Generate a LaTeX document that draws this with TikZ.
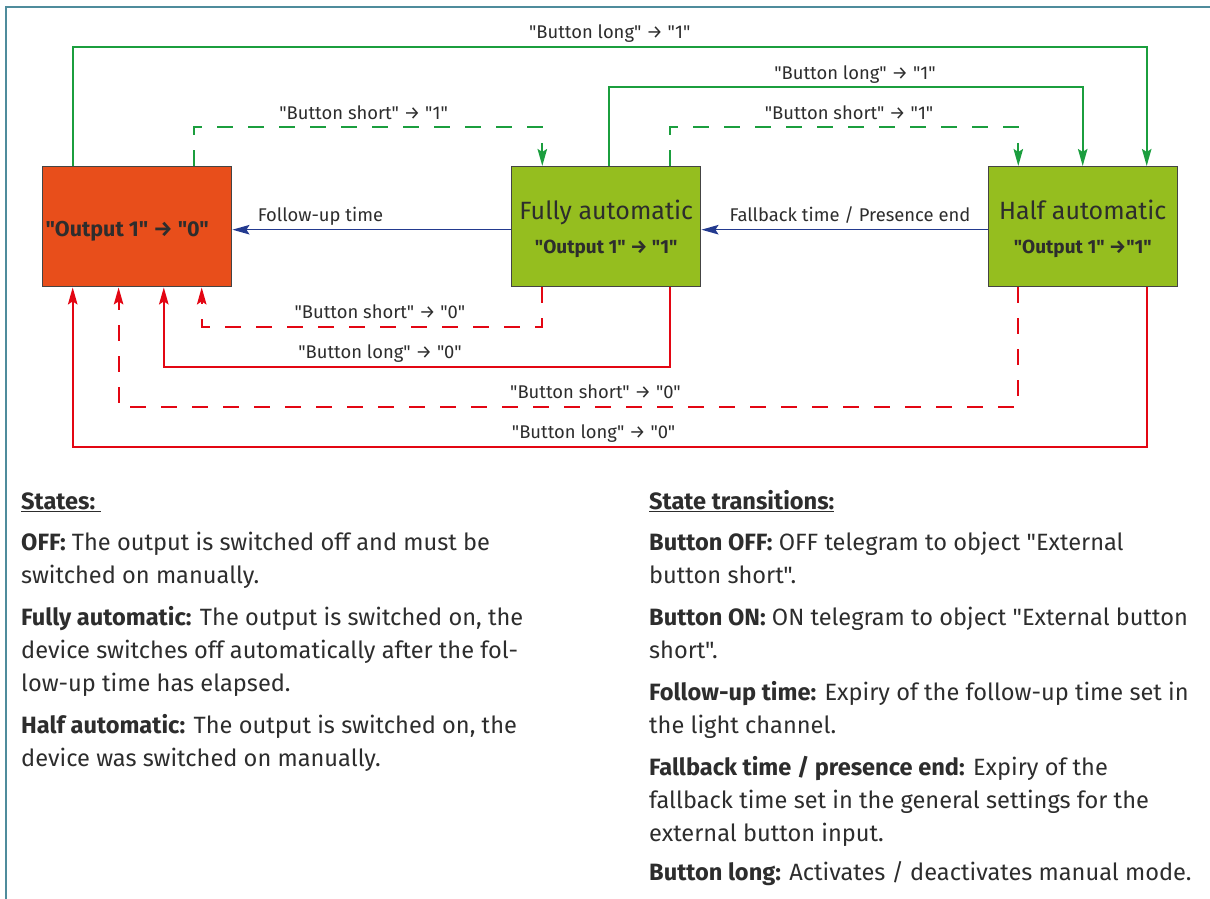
\documentclass[tikz,border=0pt]{standalone}
\usepackage{fontspec}
\setmainfont{Fira Sans}[Ligatures=TeXOff]
\usetikzlibrary{arrows.meta}
\usetikzlibrary{positioning}

\definecolor{offred}{HTML}{E84E1B}
\definecolor{autogreen}{HTML}{95BE1F}
\definecolor{lgreen}{HTML}{1B9E3E}
\definecolor{lred}{HTML}{E30613}
\definecolor{lblue}{HTML}{233A8F}
\definecolor{framec}{HTML}{4F8C9C}
\definecolor{boxgray}{HTML}{444444}
\definecolor{txt}{HTML}{2D2D2D}

\tikzset{
  state/.style={draw=boxgray, line width=1.5pt, minimum width=189pt,
    minimum height=120pt, inner sep=0pt, align=center, text=txt,
    font=\fontsize{25}{33.3}\selectfont},
  conn/.style={line width=1.8pt, -{Stealth[length=17pt, width=9.5pt, inset=3pt]}},
  golong/.style={conn, lgreen},
  goshort/.style={conn, lgreen, dash pattern=on 16pt off 15pt},
  offlong/.style={conn, lred},
  offshort/.style={conn, lred, dash pattern=on 16pt off 15pt},
  timer/.style={conn, lblue, line width=1.4pt},
  lbl/.style={text=txt, anchor=base, yshift=8pt, inner sep=0pt,
    font=\fontsize{18.4}{20}\selectfont},
  para/.style={text=txt, anchor=north west, align=left, inner sep=0pt,
    font=\fontsize{23.6}{33.3}\selectfont}
}

\begin{document}
\begin{tikzpicture}[x=1pt, y=-1pt]
    \useasboundingbox (0,0) rectangle (1210,899);
    \draw[framec, line width=2pt] (5.8,899) -- (5.8,6.7) -- (1210,6.7);

    % states
    \node (off) [state, fill=offred] at (137.2,226.7)
      {\bfseries\fontsize{21.5}{24}\selectfont\rule[-4.3pt]{0pt}{28.6pt}"Output 1" → "0"\kern20pt};
    \node (fully) [state, fill=autogreen] at (606.2,226.7)
      {\rule{0pt}{24pt}Fully automatic\\
       \bfseries\fontsize{19}{33.3}\selectfont\rule[-4pt]{0pt}{4pt}"Output 1" → "1"};
    \node (half) [state, fill=autogreen] at (1082.8,226.7)
      {\rule{0pt}{24pt}Half automatic\\
       \bfseries\fontsize{19}{33.3}\selectfont\rule[-4pt]{0pt}{4pt}"Output 1" →"1"};

    % columns and rows of the loops
    \coordinate (a) at (72.7,0);
    \coordinate (b) at (118.6,0);
    \coordinate (c) at (163.8,0);
    \coordinate (d) at (194,0);
    \coordinate (e) at (201.7,0);
    \coordinate (f) at (542.3,0);
    \coordinate (g) at (609.3,0);
    \coordinate (h) at (670,0);
    \coordinate (i) at (1018.3,0);
    \coordinate (j) at (1082.7,0);
    \coordinate (k) at (1146.7,0);
    \coordinate (r1) at (0,47);
    \coordinate (r2) at (0,87);
    \coordinate (r3) at (0,127);
    \coordinate (r4) at (0,326.7);
    \coordinate (r5) at (0,366.7);
    \coordinate (r6) at (0,406.7);
    \coordinate (r7) at (0,446.7);

    % switching on
    \draw[golong] (off.north -| a) -- (a |- r1)
      -- node[lbl]{"Button long" → "1"} (k |- r1) -- (half.north -| k);
    \draw[golong] (fully.north -| g) -- (g |- r2)
      -- node[lbl, pos=0.519]{"Button long" → "1"} (j |- r2) -- (half.north -| j);
    \draw[goshort] (off.north -| d) -- (d |- r3)
      -- node[lbl, pos=0.487]{"Button short" → "1"} (f |- r3) -- (fully.north -| f);
    \draw[goshort] (fully.north -| h) -- (h |- r3)
      -- node[lbl, pos=0.514]{"Button short" → "1"} (i |- r3) -- (half.north -| i);

    % timers
    \draw[timer] ([yshift=-3pt]fully.west)
      -- node[lbl, pos=0.684]{Follow-up time} ([yshift=-3pt]off.east);
    \draw[timer] ([yshift=-3pt]half.west)
      -- node[lbl, pos=0.481]{Fallback time / Presence end} ([yshift=-3pt]fully.east);

    % switching off
    \draw[offshort] (fully.south -| f) -- (f |- r4)
      -- node[lbl, pos=0.477]{"Button short" → "0"} (e |- r4) -- (off.south -| e);
    \draw[offlong] (fully.south -| h) -- (h |- r5)
      -- node[lbl, pos=0.573]{"Button long" → "0"} (c |- r5) -- (off.south -| c);
    \draw[offshort] (half.south -| i) -- (i |- r6)
      -- node[lbl, pos=0.47]{"Button short" → "0"} (b |- r6) -- (off.south -| b);
    \draw[offlong] (half.south -| k) -- (k |- r7)
      -- node[lbl, pos=0.515]{"Button long" → "0"} (a |- r7) -- (off.south -| a);

    % legend
    \node (states) [para] at (21,487)
      {\rule{0pt}{22pt}\underline{\textbf{States:}\ }\\[7.7pt]
       \textbf{OFF:} The output is switched off and must be\\
       switched on manually.\\[8.4pt]
       \textbf{Fully automatic:} The output is switched on, the\\
       device switches off automatically after the fol-\\
       low-up time has elapsed.\\[8.4pt]
       \textbf{Half automatic:} The output is switched on, the\\
       device was switched on manually.};
    \node (trans) [para] at (649,487)
      {\rule{0pt}{22pt}\underline{\textbf{State transitions:}}\\[7.7pt]
       \textbf{Button OFF:} OFF telegram to object "External\\
       button short".\\[8.4pt]
       \textbf{Button ON:} ON telegram to object "External button\\
       short".\\[8.4pt]
       \textbf{Follow-up time:} Expiry of the follow-up time set in\\
       the light channel.\\[8.4pt]
       \textbf{Fallback time / presence end:} Expiry of the\\
       fallback time set in the general settings for the\\
       external button input.\\[5pt]
       \textbf{Button long:} Activates / deactivates manual mode.};
\end{tikzpicture}
\end{document}
